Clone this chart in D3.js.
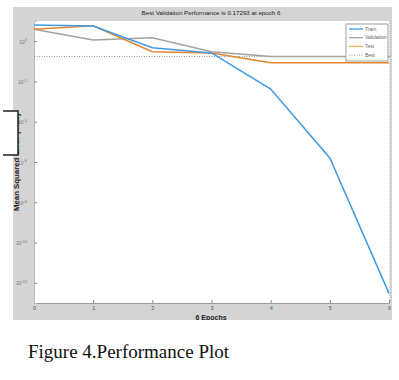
<!DOCTYPE html>
<html>
<head>
<meta charset="utf-8">
<script src="https://cdn.jsdelivr.net/npm/d3@7"></script>
<style>
  body { margin: 0; background: #fff; }
  svg { display: block; }
</style>
</head>
<body>
<svg width="399" height="380"></svg>
<script>
const epochs = [0, 1, 2, 3, 4, 5, 6];
const train = [6.3, 5.6, 0.47, 0.26, 0.0042, 1.6e-6, 3e-13];
const validation = [3.9, 1.13, 1.48, 0.30, 0.175, 0.174, 0.17293];
const test = [3.9, 5.8, 0.30, 0.26, 0.085, 0.085, 0.085];
const bestValue = 0.17293;
const yTickPowers = [0, -2, -4, -6, -8, -10, -12];
const legendNames = ["Train", "Validation", "Test", "Best"];

const svg = d3.select("svg");
const pLeft = 34, pRight = 390, pTop = 21, pBottom = 303;

svg.append("defs").append("clipPath").attr("id", "fig")
  .append("rect").attr("x", 13).attr("y", 7).attr("width", 379).attr("height", 313);

// gray figure background
svg.append("rect")
  .attr("x", 13).attr("y", 7)
  .attr("width", 379).attr("height", 313)
  .attr("fill", "#d4d4d4");

svg.append("rect")
  .attr("x", pLeft).attr("y", pTop)
  .attr("width", pRight - pLeft).attr("height", pBottom - pTop)
  .attr("fill", "#fff");

const x = d3.scaleLinear().domain([0, 6]).range([pLeft, pRight - 1]);
const y = d3.scaleLog().domain([1e-13, 1e1]).range([pBottom, pTop]);

// x axis
const xAxis = svg.append("g")
  .attr("transform", `translate(0,${pBottom})`)
  .call(d3.axisBottom(x).tickValues(epochs).tickSize(-3).tickPadding(3).tickFormat(d3.format("d")));
xAxis.select(".domain").attr("stroke", "#9a9a9a");
xAxis.selectAll(".tick line").attr("stroke", "#888");
xAxis.selectAll("text").attr("font-size", 5.5).attr("fill", "#555").attr("font-family", "Arial, sans-serif");

// y axis
const yAxis = svg.append("g")
  .attr("transform", `translate(${pLeft},0)`)
  .call(d3.axisLeft(y).tickValues(yTickPowers.map(p => Math.pow(10, p))).tickSize(-3).tickPadding(5).tickFormat(""));
yAxis.select(".domain").attr("stroke", "#bbb");
yAxis.selectAll(".tick line").attr("stroke", "#888");
yAxis.selectAll(".tick").each(function (d, i) {
  const t = d3.select(this).append("text")
    .attr("x", -7).attr("dy", "0.4em")
    .attr("text-anchor", "end")
    .attr("font-size", 5).attr("fill", "#777")
    .attr("font-family", "Arial, sans-serif");
  t.append("tspan").text("10");
  t.append("tspan").attr("dy", "-0.6em").attr("font-size", 3.8).text(yTickPowers[i]);
});

// right border of axes box
svg.append("line")
  .attr("x1", pRight).attr("x2", pRight).attr("y1", pTop).attr("y2", pBottom)
  .attr("stroke", "#aaa").attr("stroke-dasharray", "1,1");

// best line
svg.append("line")
  .attr("x1", pLeft).attr("x2", pRight)
  .attr("y1", y(bestValue)).attr("y2", y(bestValue))
  .attr("stroke", "#777").attr("stroke-width", 0.8).attr("stroke-dasharray", "1,1.5");

const line = d3.line().x((d, i) => x(epochs[i])).y(d => y(d));
const series = [
  { values: validation, color: "#a3a3a3" },
  { values: test, color: "#e2852c" },
  { values: train, color: "#3f9be6" }
];
series.forEach(s => {
  svg.append("path")
    .datum(s.values)
    .attr("d", line)
    .attr("fill", "none")
    .attr("stroke", s.color)
    .attr("stroke-width", 1.5);
});

// title and labels
svg.append("text")
  .attr("x", 211).attr("y", 14.5)
  .attr("text-anchor", "middle")
  .attr("font-family", "Arial, sans-serif")
  .attr("font-size", 6.2).attr("fill", "#222")
  .text(`Best Validation Performance is ${bestValue} at epoch 6`);

svg.append("text")
  .attr("clip-path", "url(#fig)")
  .attr("x", 211).attr("y", 320)
  .attr("text-anchor", "middle")
  .attr("font-family", "Arial, sans-serif").attr("font-weight", "bold")
  .attr("font-size", 7).attr("fill", "#222")
  .text("6 Epochs");

svg.append("text")
  .attr("transform", "translate(18.5,211) rotate(-90)")
  .attr("text-anchor", "start")
  .attr("font-family", "Arial, sans-serif").attr("font-weight", "bold")
  .attr("font-size", 7.8).attr("fill", "#222")
  .text("Mean Squared Error (mse)");

// white bracket box at left
svg.append("rect")
  .attr("x", 3).attr("y", 111).attr("width", 15).attr("height", 44)
  .attr("fill", "#fff");
svg.append("path")
  .attr("d", "M3,111H18V155H3")
  .attr("fill", "none").attr("stroke", "#222").attr("stroke-width", 1.5);

// legend
const lg = svg.append("g").attr("transform", "translate(346,24)");
lg.append("rect")
  .attr("width", 42).attr("height", 37)
  .attr("fill", "#fff").attr("stroke", "#888").attr("stroke-width", 0.8);
const legendColors = ["#3f9be6", "#a3a3a3", "#f0b050", "#777"];
legendNames.forEach((name, i) => {
  const yy = 5 + i * 8.7;
  lg.append("line")
    .attr("x1", 3).attr("x2", 17).attr("y1", yy).attr("y2", yy)
    .attr("stroke", legendColors[i])
    .attr("stroke-width", i === 3 ? 0.8 : 1.3)
    .attr("stroke-dasharray", i === 3 ? "1,1.5" : null);
  lg.append("text")
    .attr("x", 19).attr("y", yy).attr("dy", "0.35em")
    .attr("font-family", "Arial, sans-serif")
    .attr("font-size", 5).attr("fill", "#666")
    .text(name);
});

// caption
svg.append("text")
  .attr("x", 28).attr("y", 358)
  .attr("font-family", "'Liberation Serif', 'Times New Roman', serif")
  .attr("font-size", 19).attr("fill", "#111")
  .text("Figure 4.Performance Plot");
</script>
</body>
</html>
